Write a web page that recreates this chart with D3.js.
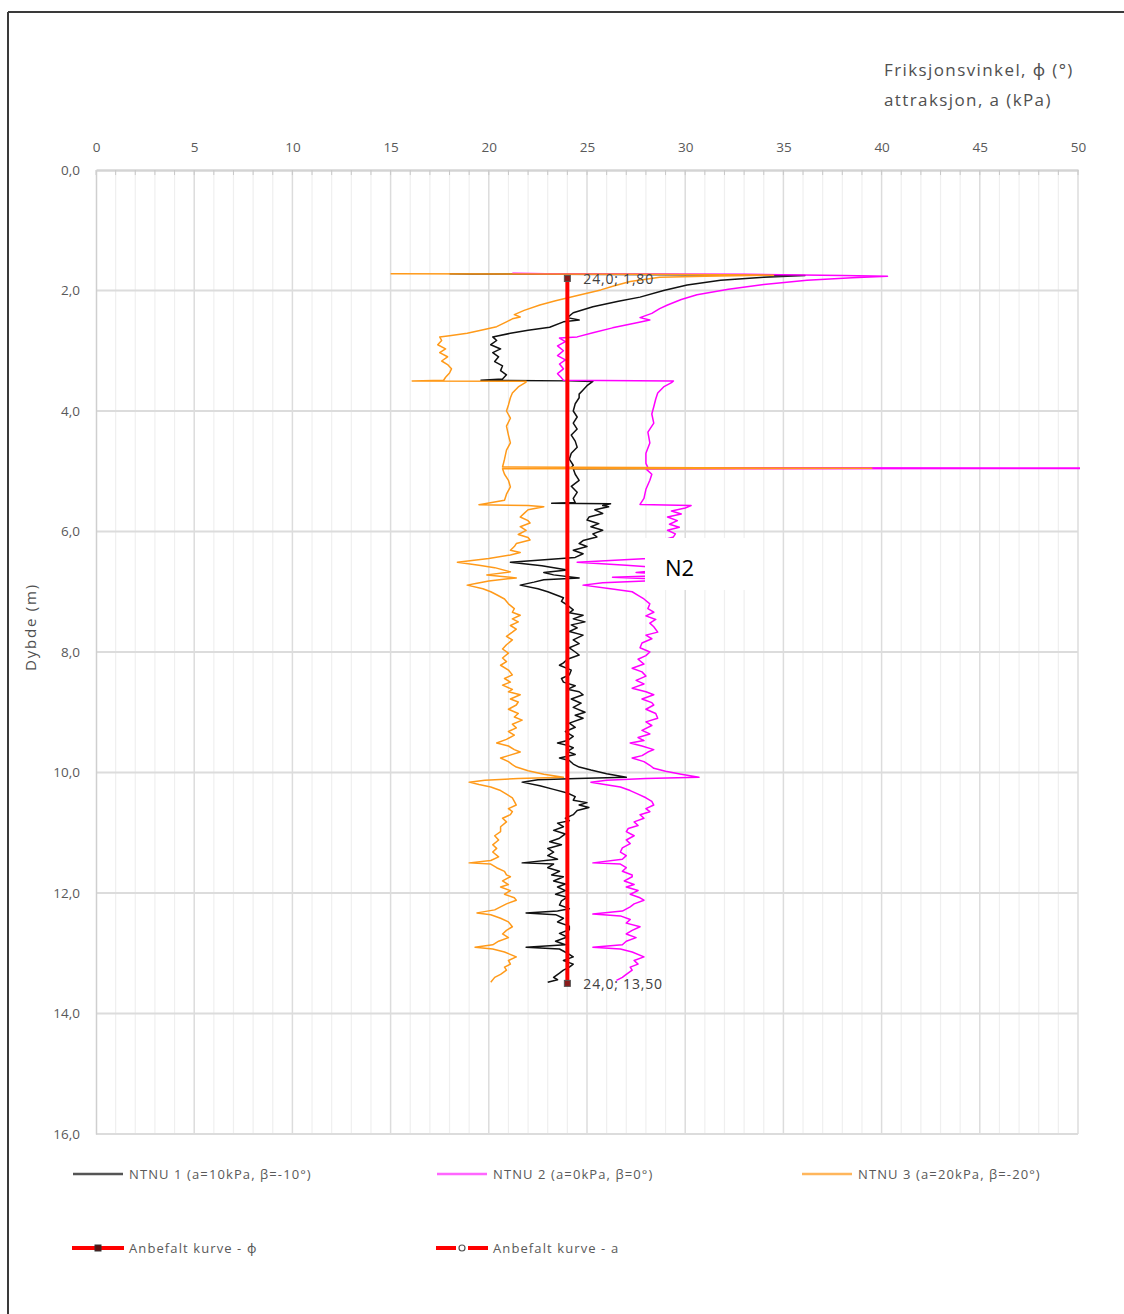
<!DOCTYPE html>
<html><head><meta charset="utf-8">
<script src="https://cdn.jsdelivr.net/npm/d3@7"></script>
<style>
html,body{margin:0;padding:0;background:#fff;}
svg{display:block;}
text{font-family:"Open Sans","Noto Sans",sans-serif;}
</style></head>
<body>
<script>
// ---------- DATA ----------
const xTicks = [0,5,10,15,20,25,30,35,40,45,50];
const yTicks = [0,2,4,6,8,10,12,14,16];
const yTickLabels = ["0,0","2,0","4,0","6,0","8,0","10,0","12,0","14,0","16,0"];
const seriesNames = ["NTNU 1 (a=10kPa, β=-10°)","NTNU 2 (a=0kPa, β=0°)","NTNU 3 (a=20kPa, β=-20°)"];
const recNames = ["Anbefalt kurve - ϕ","Anbefalt kurve - a"];

// [depth (m), value]
const ntnu1 = [[1.72,18.0],[1.725,19.2],[1.73,23.5],[1.74,30.0],[1.75,36.1],[1.78,34.0],[1.83,31.8],[1.91,30.1],[2.0,28.9],[2.11,27.7],[2.18,26.6],[2.27,25.3],[2.37,24.3],[2.45,24.0],[2.49,24.6],[2.52,23.8],[2.61,23.1],[2.66,22.0],[2.71,21.1],[2.77,20.2],[2.83,20.4],[2.9,20.1],[2.97,20.6],[3.03,20.2],[3.1,20.5],[3.18,20.3],[3.25,20.7],[3.33,20.6],[3.4,20.9],[3.47,20.7],[3.49,19.6],[3.50,24.1],[3.51,25.3],[3.58,25.0],[3.65,24.8],[3.72,24.6],[3.78,24.6],[3.88,24.4],[4.0,24.3],[4.1,24.5],[4.2,24.3],[4.3,24.5],[4.4,24.2],[4.5,24.4],[4.6,24.5],[4.7,24.2],[4.8,24.1],[4.9,24.3],[4.94,24.2],[4.95,33.0],[4.96,24.3],[5.05,24.4],[5.15,24.6],[5.25,24.2],[5.35,24.5],[5.45,24.3],[5.52,24.4],[5.53,23.2],[5.54,26.2],[5.57,25.8],[5.59,26.1],[5.64,25.4],[5.7,25.8],[5.76,25.1],[5.81,25.0],[5.87,25.6],[5.92,25.2],[5.98,25.8],[6.04,25.3],[6.09,25.5],[6.15,24.8],[6.2,24.6],[6.25,25.0],[6.31,24.3],[6.37,24.8],[6.43,24.4],[6.51,21.1],[6.57,22.7],[6.64,24.0],[6.68,22.8],[6.72,23.3],[6.77,24.6],[6.8,22.8],[6.84,22.3],[6.89,21.6],[6.95,22.5],[7.0,23.0],[7.05,23.4],[7.1,23.8],[7.16,23.7],[7.22,24.0],[7.3,24.3],[7.35,24.1],[7.39,24.8],[7.45,24.3],[7.5,24.9],[7.55,24.2],[7.6,24.5],[7.66,24.1],[7.72,24.8],[7.8,24.3],[7.86,24.6],[7.93,24.1],[8.0,24.4],[8.05,24.6],[8.12,24.0],[8.18,23.8],[8.22,23.6],[8.3,24.2],[8.38,24.1],[8.44,23.7],[8.5,23.8],[8.56,24.4],[8.62,24.0],[8.66,24.6],[8.71,24.8],[8.78,24.2],[8.85,24.7],[8.92,24.3],[9.0,24.9],[9.05,24.4],[9.1,24.8],[9.18,24.1],[9.25,24.4],[9.32,23.9],[9.4,24.3],[9.47,24.0],[9.51,23.5],[9.55,24.0],[9.59,24.3],[9.65,24.0],[9.7,24.4],[9.76,23.6],[9.8,24.1],[9.86,24.3],[9.91,24.6],[9.96,25.2],[10.02,26.0],[10.08,27.0],[10.1,24.5],[10.12,22.5],[10.16,21.7],[10.22,22.6],[10.28,23.3],[10.34,24.0],[10.4,24.4],[10.46,24.3],[10.5,25.0],[10.54,24.6],[10.58,25.1],[10.63,24.5],[10.7,24.3],[10.76,23.9],[10.8,24.1],[10.84,23.5],[10.9,23.8],[10.96,23.3],[11.02,23.9],[11.09,23.6],[11.15,23.1],[11.2,23.7],[11.26,23.0],[11.32,23.3],[11.38,23.0],[11.44,23.5],[11.5,21.7],[11.52,23.3],[11.58,23.0],[11.64,23.6],[11.7,23.2],[11.73,23.8],[11.8,23.3],[11.85,23.9],[11.9,23.5],[11.96,23.9],[12.02,23.4],[12.07,24.0],[12.13,23.7],[12.2,23.6],[12.26,24.1],[12.3,23.5],[12.33,21.9],[12.36,23.4],[12.42,23.8],[12.48,23.5],[12.55,24.1],[12.61,24.1],[12.67,23.6],[12.73,24.0],[12.8,23.4],[12.86,23.9],[12.9,21.9],[12.93,23.6],[13.0,24.0],[13.06,24.3],[13.12,23.8],[13.18,24.3],[13.23,24.1],[13.28,23.8],[13.33,23.6],[13.4,23.3],[13.44,23.5],[13.48,23.0]];

const ntnu2 = [[1.715,21.2],[1.72,22.9],[1.725,26.0],[1.73,33.0],[1.75,38.0],[1.765,40.3],[1.79,38.5],[1.83,36.2],[1.9,34.0],[1.98,32.2],[2.07,30.6],[2.15,29.8],[2.24,29.1],[2.3,28.7],[2.38,28.3],[2.45,27.7],[2.49,28.2],[2.53,27.6],[2.62,26.3],[2.7,25.3],[2.77,24.5],[2.79,23.6],[2.85,23.9],[2.92,23.5],[3.0,23.8],[3.08,23.5],[3.15,23.9],[3.22,23.6],[3.3,23.8],[3.38,23.5],[3.45,23.7],[3.49,23.8],[3.5,29.4],[3.53,29.3],[3.6,28.9],[3.7,28.6],[3.8,28.5],[3.93,28.4],[4.05,28.3],[4.2,28.4],[4.35,28.1],[4.53,28.2],[4.7,28.0],[4.87,28.0],[4.94,28.1],[4.95,60],[4.96,28.0],[5.05,28.3],[5.15,28.2],[5.3,28.0],[5.45,27.9],[5.55,27.7],[5.57,30.3],[5.61,30.0],[5.66,29.3],[5.71,29.8],[5.76,29.1],[5.82,29.6],[5.88,29.2],[5.93,29.7],[5.98,29.1],[6.04,29.5],[6.09,29.4],[6.15,28.8],[6.22,28.6],[6.3,28.8],[6.38,28.4],[6.45,28.1],[6.51,24.5],[6.56,27.0],[6.62,29.5],[6.68,27.5],[6.72,29.8],[6.76,26.3],[6.8,29.5],[6.85,25.8],[6.89,24.8],[6.95,26.2],[7.0,27.3],[7.06,27.6],[7.12,27.9],[7.2,28.2],[7.28,28.1],[7.34,28.4],[7.4,28.0],[7.46,28.5],[7.52,28.2],[7.58,28.4],[7.67,28.6],[7.72,28.0],[7.78,28.3],[7.85,27.8],[7.93,27.7],[8.0,28.2],[8.06,28.0],[8.12,27.6],[8.2,27.9],[8.27,27.3],[8.33,27.8],[8.4,28.0],[8.47,27.5],[8.53,27.9],[8.6,27.3],[8.66,28.0],[8.71,28.4],[8.78,27.8],[8.84,28.3],[8.88,28.4],[8.95,28.0],[9.02,28.5],[9.1,28.6],[9.16,28.0],[9.22,28.3],[9.3,27.8],[9.36,28.2],[9.42,27.6],[9.47,27.9],[9.51,27.2],[9.56,27.8],[9.62,28.4],[9.66,28.1],[9.72,27.8],[9.76,27.3],[9.82,27.9],[9.88,28.2],[9.93,28.4],[9.98,29.0],[10.03,29.8],[10.08,30.7],[10.1,28.0],[10.13,26.0],[10.16,25.2],[10.2,25.9],[10.24,26.7],[10.3,27.2],[10.36,27.6],[10.42,28.0],[10.48,28.3],[10.54,28.4],[10.6,28.0],[10.65,28.2],[10.7,27.7],[10.76,27.9],[10.82,27.4],[10.88,27.6],[10.93,27.1],[10.98,27.0],[11.05,27.4],[11.12,27.0],[11.18,27.2],[11.25,26.8],[11.32,26.7],[11.38,27.0],[11.44,26.8],[11.5,25.3],[11.52,26.7],[11.58,27.0],[11.64,26.8],[11.7,27.3],[11.73,27.3],[11.8,26.9],[11.86,27.4],[11.9,27.0],[11.96,27.6],[12.02,27.2],[12.08,27.7],[12.12,27.9],[12.18,27.4],[12.23,27.2],[12.3,26.8],[12.35,25.3],[12.38,26.7],[12.44,27.2],[12.5,27.0],[12.56,27.7],[12.62,27.3],[12.68,27.0],[12.74,27.5],[12.8,27.0],[12.86,26.8],[12.9,25.3],[12.93,26.7],[12.98,27.3],[13.06,27.9],[13.12,27.4],[13.18,27.6],[13.23,27.2],[13.28,27.3],[13.35,27.0],[13.4,26.8],[13.45,26.5]];

const ntnu3 = [[1.72,15.0],[1.725,22.0],[1.73,28.0],[1.745,34.5],[1.765,31.0],[1.78,28.7],[1.85,27.2],[1.92,26.4],[1.99,25.7],[2.1,24.3],[2.17,23.4],[2.24,22.6],[2.33,21.8],[2.4,21.3],[2.44,21.6],[2.47,21.2],[2.52,20.9],[2.6,20.4],[2.66,19.6],[2.71,18.9],[2.75,18.0],[2.77,17.5],[2.83,17.6],[2.9,17.4],[2.97,17.8],[3.03,17.5],[3.1,17.9],[3.17,17.6],[3.23,17.9],[3.3,18.1],[3.37,18.0],[3.44,17.8],[3.49,17.7],[3.5,16.1],[3.505,21.9],[3.52,21.9],[3.6,21.5],[3.7,21.2],[3.78,21.1],[3.9,21.0],[4.0,20.9],[4.12,21.1],[4.25,20.9],[4.4,21.0],[4.53,21.1],[4.65,20.9],[4.8,20.8],[4.93,20.7],[4.95,39.5],[4.96,20.7],[5.05,20.8],[5.15,21.0],[5.26,21.1],[5.38,20.9],[5.48,20.8],[5.555,19.5],[5.57,22.0],[5.59,22.8],[5.64,22.0],[5.7,21.8],[5.76,21.6],[5.82,22.0],[5.86,22.1],[5.92,21.6],[5.98,21.9],[6.05,21.5],[6.1,22.0],[6.14,22.1],[6.2,21.4],[6.25,21.3],[6.31,21.1],[6.35,21.6],[6.39,21.1],[6.45,20.0],[6.51,18.4],[6.56,19.5],[6.6,20.3],[6.67,21.1],[6.72,19.9],[6.77,21.4],[6.82,20.0],[6.86,19.4],[6.89,18.9],[6.95,19.7],[7.0,20.1],[7.05,20.4],[7.12,20.8],[7.2,21.0],[7.28,21.3],[7.34,21.2],[7.39,21.6],[7.45,21.2],[7.5,21.5],[7.56,21.1],[7.62,21.4],[7.67,21.2],[7.74,20.9],[7.8,21.2],[7.88,20.9],[7.95,20.7],[8.02,21.0],[8.1,20.7],[8.16,20.9],[8.22,20.6],[8.3,21.0],[8.38,21.2],[8.44,20.8],[8.5,21.1],[8.55,20.7],[8.62,21.2],[8.66,21.0],[8.71,21.6],[8.78,21.1],[8.83,21.5],[8.88,21.4],[8.95,21.0],[9.02,21.5],[9.08,21.3],[9.13,21.7],[9.2,21.2],[9.26,21.4],[9.32,21.0],[9.38,21.3],[9.45,20.9],[9.51,20.4],[9.56,21.0],[9.62,21.3],[9.66,21.6],[9.72,21.0],[9.76,20.6],[9.82,21.0],[9.87,21.2],[9.91,21.4],[9.97,22.0],[10.03,22.8],[10.08,23.8],[10.1,21.5],[10.13,19.8],[10.16,19.0],[10.2,19.5],[10.24,20.1],[10.3,20.6],[10.36,20.9],[10.42,21.2],[10.48,21.3],[10.54,21.4],[10.6,21.0],[10.65,21.2],[10.7,21.1],[10.76,20.7],[10.82,20.9],[10.9,20.6],[10.98,20.6],[11.05,20.3],[11.12,20.5],[11.2,20.2],[11.26,20.4],[11.32,20.2],[11.4,20.5],[11.46,20.1],[11.5,19.0],[11.52,20.1],[11.58,20.4],[11.64,20.8],[11.7,20.9],[11.73,21.1],[11.8,20.7],[11.86,21.0],[11.9,20.6],[11.96,21.1],[12.02,20.8],[12.08,21.3],[12.12,21.4],[12.18,20.9],[12.23,20.6],[12.28,20.3],[12.33,19.4],[12.36,20.1],[12.42,20.6],[12.48,21.0],[12.56,21.2],[12.62,20.9],[12.68,20.7],[12.74,21.0],[12.8,20.5],[12.86,20.2],[12.9,19.3],[12.93,20.2],[12.98,20.8],[13.06,21.4],[13.12,21.0],[13.18,21.1],[13.23,20.8],[13.28,20.9],[13.35,20.6],[13.4,20.3],[13.48,20.1]];

// recommended curve (phi): [depth, value]
const recPhi = [[1.80,24.0],[13.50,24.0]];
const recLabels = ["24,0; 1,80","24,0; 13,50"];

// ---------- DRAW ----------
const W = 1124, H = 1314;
const svg = d3.select("body").append("svg").attr("width", W).attr("height", H);
const L = 96, R = 1078, T = 170, B = 1134;
const x = d3.scaleLinear().domain([0,50]).range([L,R]);
const y = d3.scaleLinear().domain([0,16]).range([T,B]);

// outer frame (top + left)
svg.append("line").attr("x1",8).attr("x2",W).attr("y1",12).attr("y2",12).attr("stroke","#3a3a3a").attr("stroke-width",2);
svg.append("line").attr("x1",8).attr("x2",8).attr("y1",12).attr("y2",H).attr("stroke","#3a3a3a").attr("stroke-width",2);

// grid
const g = svg.append("g");
g.selectAll(".vminor").data(d3.range(1,50).filter(v=>v%5!==0)).join("line")
  .attr("x1",d=>x(d)).attr("x2",d=>x(d)).attr("y1",T).attr("y2",B)
  .attr("stroke","#efefef").attr("stroke-width",1.2);
g.selectAll(".vmajor").data(xTicks.slice(1)).join("line")
  .attr("x1",d=>x(d)).attr("x2",d=>x(d)).attr("y1",T).attr("y2",B)
  .attr("stroke","#dcdcdc").attr("stroke-width",1.5);
g.selectAll(".hgrid").data(yTicks.slice(1)).join("line")
  .attr("x1",L).attr("x2",R).attr("y1",d=>y(d)).attr("y2",d=>y(d))
  .attr("stroke","#dcdcdc").attr("stroke-width",1.8);

// top axis
const xAxis = d3.axisTop(x).tickValues(xTicks).tickSize(0).tickPadding(18).tickFormat(d3.format("d"));
const xa = svg.append("g").attr("transform",`translate(0,${T})`).call(xAxis);
xa.select(".domain").attr("stroke","#d4d4d4").attr("stroke-width",2.5);
xa.selectAll("text").attr("fill","#595959").attr("font-size",13.5).attr("font-family","Open Sans, sans-serif");
svg.append("g").selectAll("line").data(d3.range(0,51)).join("line")
  .attr("x1",d=>x(d)).attr("x2",d=>x(d)).attr("y1",T).attr("y2",T+5)
  .attr("stroke","#c8c8c8").attr("stroke-width",1);

// left axis
const yAxis = d3.axisLeft(y).tickValues(yTicks).tickSize(0).tickPadding(16).tickFormat((d,i)=>yTickLabels[i]);
const ya = svg.append("g").attr("transform",`translate(${L},0)`).call(yAxis);
ya.select(".domain").attr("stroke","#cfcfcf").attr("stroke-width",1.5);
ya.selectAll("text").attr("fill","#595959").attr("font-size",13.5).attr("font-family","Open Sans, sans-serif");

// axis titles
svg.append("text").attr("x",884).attr("y",76).attr("font-size",17).attr("letter-spacing",1.4).attr("fill","#505050").text("Friksjonsvinkel, ϕ (°)");
svg.append("text").attr("x",884).attr("y",106).attr("font-size",17).attr("letter-spacing",1.4).attr("fill","#505050").text("attraksjon, a (kPa)");
svg.append("text").attr("transform","translate(36,627) rotate(-90)").attr("text-anchor","middle")
  .attr("font-size",15).attr("letter-spacing",1.8).attr("fill","#505050").text("Dybde (m)");

// clip
svg.append("clipPath").attr("id","plotclip").append("rect").attr("x",L).attr("y",T-2).attr("width",R-L+2).attr("height",B-T+4);
const plot = svg.append("g").attr("clip-path","url(#plotclip)");
const line = d3.line().x(d=>x(d[1])).y(d=>y(d[0]));

const series = [
  {data: ntnu1, color:"#111111", w:1.5},
  {data: ntnu2, color:"#ff00ff", w:1.5},
  {data: ntnu3, color:"#ff9a1a", w:1.5}
];
series.forEach(s=>{
  plot.append("path").datum(s.data).attr("d",line).attr("fill","none")
    .attr("stroke",s.color).attr("stroke-width",s.w).attr("stroke-linejoin","round");
});

// recommended curve
plot.append("path").datum(recPhi).attr("d",line).attr("fill","none").attr("stroke","#ff0000").attr("stroke-width",4);
plot.selectAll(".rm").data(recPhi).join("rect")
  .attr("x",d=>x(d[1])-3).attr("y",d=>y(d[0])-3).attr("width",6).attr("height",6)
  .attr("fill","#8b1a1a").attr("stroke","#555").attr("stroke-width",1);
svg.selectAll(".rl").data(recPhi).join("text")
  .attr("x",d=>x(d[1])+16).attr("y",d=>y(d[0])+6)
  .attr("font-size",14).attr("letter-spacing",0.8).attr("fill","#404040").text((d,i)=>recLabels[i]);

// N2 box
svg.append("rect").attr("x",645).attr("y",538).attr("width",105).attr("height",52).attr("fill","#ffffff");
svg.append("text").attr("x",665).attr("y",576).attr("font-size",22).attr("fill","#000").text("N2");

// legend
const leg = svg.append("g");
const legItems = [
  {x:73, y:1174, color:"#555555", w:2.5, name:seriesNames[0]},
  {x:437, y:1174, color:"#ff66ff", w:2.5, name:seriesNames[1]},
  {x:802, y:1174, color:"#ffb65c", w:2.5, name:seriesNames[2]}
];
legItems.forEach(it=>{
  leg.append("line").attr("x1",it.x).attr("x2",it.x+50).attr("y1",it.y).attr("y2",it.y).attr("stroke",it.color).attr("stroke-width",it.w);
  leg.append("text").attr("x",it.x+56).attr("y",it.y+5).attr("font-size",13).attr("letter-spacing",1.1).attr("fill","#595959").text(it.name);
});
leg.append("line").attr("x1",72).attr("x2",124).attr("y1",1248).attr("y2",1248).attr("stroke","#ff0000").attr("stroke-width",4);
leg.append("rect").attr("x",95).attr("y",1245).attr("width",6).attr("height",6).attr("fill","#5a1010").attr("stroke","#333");
leg.append("text").attr("x",129).attr("y",1253).attr("font-size",13).attr("letter-spacing",1.1).attr("fill","#595959").text(recNames[0]);
leg.append("line").attr("x1",436).attr("x2",456).attr("y1",1248).attr("y2",1248).attr("stroke","#ff0000").attr("stroke-width",4);
leg.append("line").attr("x1",468).attr("x2",488).attr("y1",1248).attr("y2",1248).attr("stroke","#ff0000").attr("stroke-width",4);
leg.append("circle").attr("cx",462).attr("cy",1248).attr("r",3).attr("fill","#fff").attr("stroke","#555").attr("stroke-width",1.2);
leg.append("text").attr("x",493).attr("y",1253).attr("font-size",13).attr("letter-spacing",1.1).attr("fill","#595959").text(recNames[1]);
</script>
</body></html>
